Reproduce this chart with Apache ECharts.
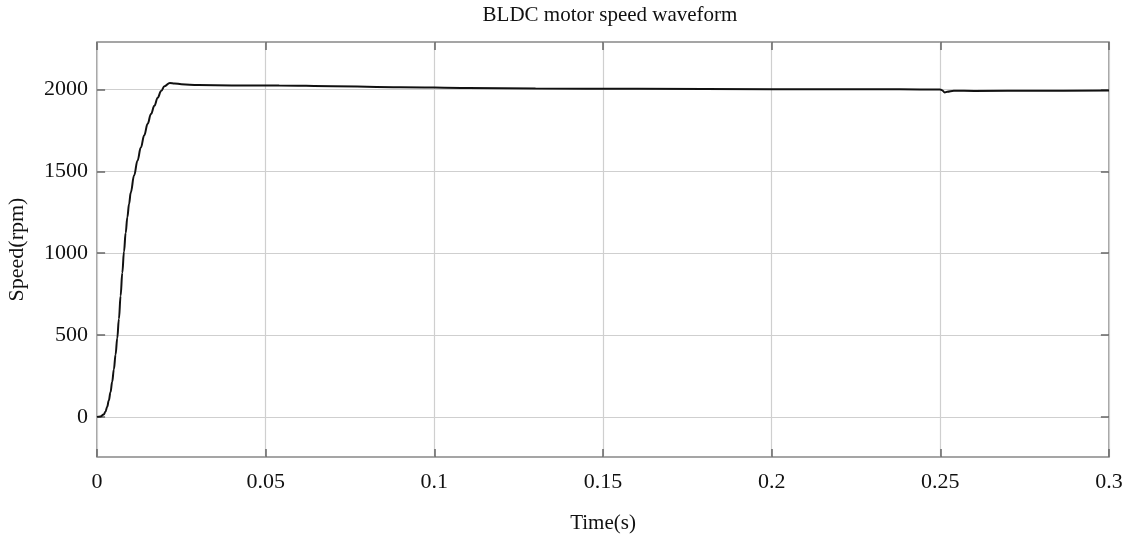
<!DOCTYPE html>
<html>
<head>
<meta charset="utf-8">
<script src="https://cdn.jsdelivr.net/npm/echarts@6/dist/echarts.min.js"></script>
<style>html,body{margin:0;padding:0;background:#fff;}#c{width:1125px;height:537px;}</style>
</head>
<body>
<div id="c"></div>
<script>
const timeValues = [0, 0.001, 0.002, 0.0025, 0.003, 0.0035, 0.004, 0.0045, 0.005, 0.0055, 0.006, 0.0065, 0.007, 0.0075, 0.008, 0.0085, 0.009, 0.0095, 0.010, 0.011, 0.012, 0.013, 0.014, 0.015, 0.016, 0.017, 0.018, 0.019, 0.020, 0.0216, 0.023, 0.025, 0.03, 0.04, 0.054, 0.07, 0.09, 0.11, 0.13, 0.16, 0.2, 0.238, 0.25, 0.2505, 0.2513, 0.252, 0.254, 0.26, 0.28, 0.3];
const speedValues = [0, 3, 15, 32, 60, 100, 150, 215, 290, 380, 480, 600, 740, 880, 1010, 1125, 1220, 1300, 1370, 1475, 1565, 1645, 1720, 1790, 1850, 1900, 1950, 1990, 2020, 2040, 2037, 2032, 2027, 2025, 2024, 2020, 2014, 2009, 2006, 2004, 2002, 2001, 2000, 1996, 1982, 1986, 1992, 1991, 1992, 1993];
const xTicks = [0, 0.05, 0.1, 0.15, 0.2, 0.25, 0.3];
const yTicks = [0, 500, 1000, 1500, 2000];
const titleText = 'BLDC motor speed waveform';
const xName = 'Time(s)';
const yName = 'Speed(rpm)';

const font = 'Liberation Serif, Times New Roman, serif';
const data = timeValues.map((t, i) => [t, speedValues[i]]);
const chart = echarts.init(document.getElementById('c'));
const tickStyle = {show: true, inside: true, length: 8, lineStyle: {color: '#666', width: 1.5}};
chart.setOption({
  animation: false,
  title: {text: titleText, left: 605, top: 0, textAlign: 'center',
    textStyle: {fontFamily: font, fontSize: 21, fontWeight: 'normal', color: '#111'}},
  grid: {left: 97, right: 16, top: 42, bottom: 80, show: true, borderColor: '#888', borderWidth: 1.5,
    outerBoundsMode: 'none', containLabel: false},
  xAxis: [{
    type: 'value', min: 0, max: 0.3, interval: 0.05,
    name: xName, nameLocation: 'middle', nameGap: 56,
    nameTextStyle: {fontFamily: font, fontSize: 21, color: '#111'},
    axisLine: {show: false, onZero: false},
    axisTick: tickStyle,
    axisLabel: {fontFamily: font, fontSize: 22, color: '#111', margin: 14,
      formatter: v => xTicks.includes(+v.toFixed(2)) ? String(+v.toFixed(2)) : ''},
    splitLine: {show: true, lineStyle: {color: '#cfcfcf', width: 1.2}}
  }, {
    type: 'value', position: 'top', min: 0, max: 0.3, interval: 0.05,
    axisLine: {show: false, onZero: false}, axisTick: tickStyle, axisLabel: {show: false}, splitLine: {show: false}
  }],
  yAxis: [{
    type: 'value', min: -245, max: 2290,
    name: yName, nameLocation: 'middle', nameGap: 69,
    nameTextStyle: {fontFamily: font, fontSize: 22, color: '#111'},
    axisLine: {show: false, onZero: false},
    axisTick: {show: false},
    axisLabel: {show: false},
    splitLine: {show: false}
  }, {
    type: 'value', min: -245, max: 2290, show: false
  }],
  series: [{
    type: 'line', data: data, showSymbol: false, smooth: 0.4, smoothMonotone: 'x',
    lineStyle: {color: '#111', width: 2}, z: 5,
    markLine: {
      silent: true, symbol: 'none', animation: false,
      lineStyle: {color: '#cfcfcf', width: 1.2, type: 'solid'},
      label: {show: true, position: 'start', distance: 9, fontFamily: font, fontSize: 22, color: '#111',
        formatter: p => String(p.value)},
      data: yTicks.map(v => ({yAxis: v}))
    }
  }, {
    type: 'line', data: [], markLine: {
      silent: true, symbol: 'none', animation: false, label: {show: false},
      lineStyle: {color: '#666', width: 1.5, type: 'solid'},
      data: yTicks.flatMap(v => [
        [{coord: [0, v]}, {coord: [0.0024, v]}],
        [{coord: [0.2976, v]}, {coord: [0.3, v]}]
      ])
    }
  }]
});
</script>
</body>
</html>
